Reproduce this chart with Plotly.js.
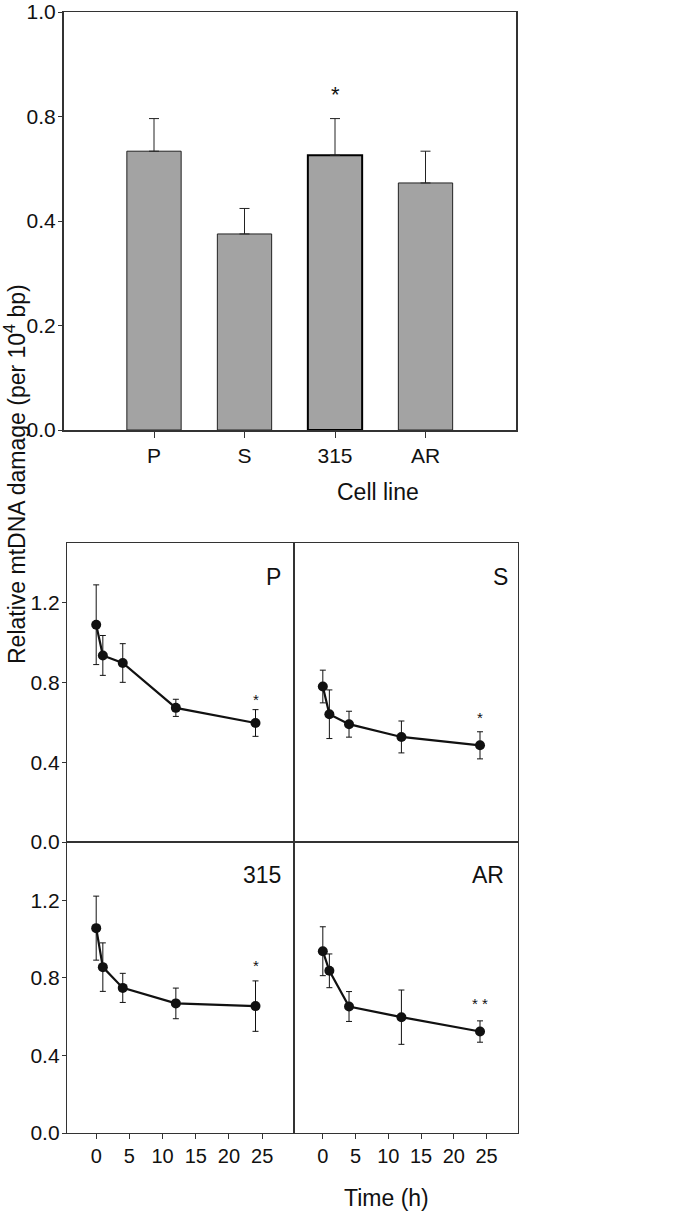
<!DOCTYPE html>
<html><head><meta charset="utf-8">
<script src="https://cdn.plot.ly/plotly-3.0.1.min.js"></script>
<style>html,body{margin:0;padding:0;background:#fff}#chart{width:680px;height:1213px}</style>
</head><body><div id="chart"></div>
<script>
// ---------- data ----------
const cellLines = ['P', 'S', '315', 'AR'];
const barValues = [0.667, 0.469, 0.657, 0.591];      // in axis position units (ticks labelled as in source)
const barErrors = [0.078, 0.061, 0.088, 0.076];
const barTickVals = [0, 0.25, 0.5, 0.75, 1.0];
const barTickText = ['0.0', '0.2', '0.4', '0.8', '1.0'];
const barSigCategory = '315';
const barSigValue = 0.802;

const timeHours = [0, 1, 4, 12, 24];
const meanP = [1.09, 0.936, 0.898, 0.673, 0.597];
const errP = [0.20, 0.10, 0.097, 0.043, 0.067];
const meanS = [0.78, 0.641, 0.591, 0.527, 0.485];
const errS = [0.082, 0.122, 0.065, 0.08, 0.068];
const mean315 = [1.056, 0.855, 0.748, 0.668, 0.654];
const err315 = [0.165, 0.125, 0.075, 0.079, 0.13];
const meanAR = [0.937, 0.836, 0.652, 0.597, 0.523];
const errAR = [0.126, 0.087, 0.077, 0.14, 0.055];
const panelNames = ['P', 'S', '315', 'AR'];
const panelSigText = ['*', '*', '*', '* *'];
const panelSigValue = [0.713, 0.626, 0.861, 0.669];
const timeTicks = [0, 5, 10, 15, 20, 25];
const lineTicks = [0, 0.4, 0.8, 1.2];

// ---------- layout helpers ----------
const W = 680, H = 1213;
const px = x => x / W;
const py = y => 1 - y / H;
const FONT = 'Liberation Sans, Arial, Helvetica, sans-serif';
const INK = '#111';
const FRAME = '#333';
const TICK = 21;
const TTICK = 20;

const traces = [];
traces.push({
  type: 'bar', x: cellLines, y: barValues, xaxis: 'x', yaxis: 'y',
  width: 0.6,
  marker: { color: '#a3a3a3', line: { color: cellLines.map(c => c === '315' ? '#000' : '#222'), width: cellLines.map(c => c === '315' ? 2 : 1) } },
  error_y: { type: 'data', symmetric: false, array: barErrors, arrayminus: barErrors.map(() => 0), color: '#222', thickness: 1, width: 5 },
  hoverinfo: 'none', showlegend: false
});

const means = [meanP, meanS, mean315, meanAR];
const errs = [errP, errS, err315, errAR];
for (let i = 0; i < 4; i++) {
  traces.push({
    type: 'scatter', mode: 'lines+markers', x: timeHours, y: means[i],
    xaxis: 'x' + (i + 2), yaxis: 'y' + (i + 2),
    line: { color: INK, width: 2.2 },
    marker: { color: INK, size: 10 },
    error_y: { type: 'data', array: errs[i], color: INK, thickness: 1, width: 3 },
    hoverinfo: 'none', showlegend: false
  });
}

const L = 67, MID = 294, R = 518, TOP = 543, HMID = 842, BOT = 1133;
const xDomL = [px(L), px(MID)], xDomR = [px(MID), px(R)];
const yDomT = [py(HMID), py(TOP)], yDomB = [py(BOT), py(HMID)];

function panelX(dom, anchor, showTicks) {
  return {
    domain: dom, anchor: anchor, range: [-4.4, 29.8],
    showline: true, mirror: true, linecolor: FRAME, linewidth: 1.2,
    showgrid: false, zeroline: false,
    tickvals: showTicks ? timeTicks : [], ticks: showTicks ? 'outside' : '',
    ticklen: 5, tickcolor: FRAME, showticklabels: showTicks,
    tickfont: { family: FONT, size: TTICK, color: INK }
  };
}
function panelY(dom, anchor, showTicks) {
  return {
    domain: dom, anchor: anchor, range: [0, 1.5],
    showline: true, mirror: true, linecolor: FRAME, linewidth: 1.2,
    showgrid: false, zeroline: false,
    tickvals: showTicks ? lineTicks : [], ticktext: lineTicks.map(v => v.toFixed(1)),
    ticks: showTicks ? 'outside' : '', ticklen: 4, tickcolor: FRAME,
    showticklabels: showTicks, ticklabeloverflow: 'allow', ticklabelstandoff: -2,
    tickfont: { family: FONT, size: TICK, color: INK }
  };
}

const annotations = [];
annotations.push({ xref: 'x', yref: 'y', x: cellLines.indexOf(barSigCategory), y: barSigValue, text: '*', showarrow: false,
  xanchor: 'center', yanchor: 'middle', font: { family: FONT, size: 22, color: INK } });
annotations.push({ xref: 'paper', yref: 'paper', x: px(378), y: py(492), text: 'Cell line', showarrow: false,
  xanchor: 'center', yanchor: 'middle', font: { family: FONT, size: 23, color: INK } });
annotations.push({ xref: 'paper', yref: 'paper', x: px(386), y: py(1198), text: 'Time (h)', showarrow: false,
  xanchor: 'center', yanchor: 'middle', font: { family: FONT, size: 23, color: INK } });
annotations.push({ xref: 'paper', yref: 'paper', x: px(15), y: py(474), textangle: -90,
  xanchor: 'center', yanchor: 'middle',
  text: 'Relative mtDNA damage (per 10<sup>4</sup> bp)', showarrow: false,
  font: { family: FONT, size: 23, color: INK } });

const labelPos = [[0.95, 0.885], [0.965, 0.885], [0.95, 0.885], [0.945, 0.885]];
for (let i = 0; i < 4; i++) {
  const n = i + 2;
  annotations.push({ xref: 'x' + n + ' domain', yref: 'y' + n + ' domain', x: labelPos[i][0], y: labelPos[i][1],
    xanchor: 'right', yanchor: 'middle', text: panelNames[i], showarrow: false,
    font: { family: FONT, size: 23, color: INK } });
  annotations.push({ xref: 'x' + n, yref: 'y' + n, x: timeHours[timeHours.length - 1], y: panelSigValue[i],
    xanchor: 'center', yanchor: 'middle',
    text: panelSigText[i], showarrow: false, font: { family: FONT, size: 15, color: INK } });
}

const layout = {
  width: W, height: H, margin: { l: 0, r: 0, t: 0, b: 0 },
  paper_bgcolor: '#fff', plot_bgcolor: '#fff',
  font: { family: FONT, color: INK },
  showlegend: false,
  xaxis: {
    domain: [px(63.5), px(516)], anchor: 'y', range: [-1, 4], type: 'category',
    showline: true, mirror: true, linecolor: FRAME, linewidth: 1.5,
    showgrid: false, zeroline: false, ticks: 'outside', ticklen: 6, tickcolor: FRAME,
    tickfont: { family: FONT, size: TICK, color: INK }
  },
  yaxis: {
    domain: [py(430), py(12)], anchor: 'x', range: [0, 1],
    showline: true, mirror: true, linecolor: FRAME, linewidth: 1.5,
    showgrid: false, zeroline: false, ticks: 'outside', ticklen: 4, tickcolor: FRAME,
    tickvals: barTickVals, ticktext: barTickText, ticklabeloverflow: 'allow', ticklabelstandoff: -2,
    tickfont: { family: FONT, size: TICK, color: INK }
  },
  xaxis2: panelX(xDomL, 'y2', false),
  yaxis2: panelY(yDomT, 'x2', true),
  xaxis3: panelX(xDomR, 'y3', false),
  yaxis3: panelY(yDomT, 'x3', false),
  xaxis4: panelX(xDomL, 'y4', true),
  yaxis4: panelY(yDomB, 'x4', true),
  xaxis5: panelX(xDomR, 'y5', true),
  yaxis5: panelY(yDomB, 'x5', false),
  annotations: annotations
};

Plotly.newPlot('chart', traces, layout, { displayModeBar: false, staticPlot: true });
</script></body></html>
